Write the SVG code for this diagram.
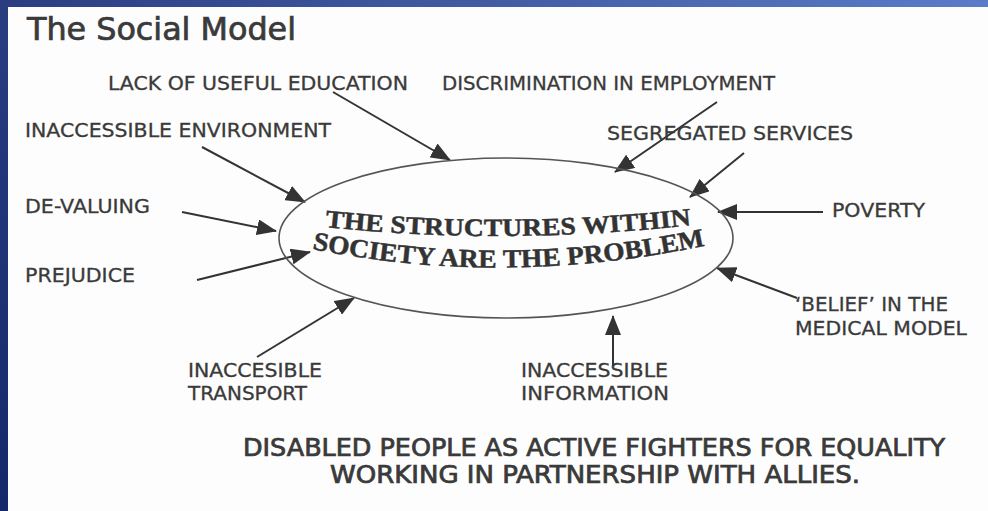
<svg xmlns="http://www.w3.org/2000/svg" width="988" height="511" viewBox="0 0 988 511">
  <defs>
    <linearGradient id="topbar" x1="0" y1="0" x2="1" y2="0">
      <stop offset="0" stop-color="#2a3d80"/>
      <stop offset="1" stop-color="#5b7cc8"/>
    </linearGradient>
    <linearGradient id="leftbar" x1="0" y1="0" x2="0" y2="1">
      <stop offset="0" stop-color="#2a3d80"/>
      <stop offset="1" stop-color="#14286a"/>
    </linearGradient>
    <marker id="arrow" markerUnits="userSpaceOnUse" markerWidth="20" markerHeight="16" viewBox="0 0 20 16" refX="19" refY="8" orient="auto">
      <path d="M0,0 L20,8 L0,16 Z" fill="#333"/>
    </marker>
    <path id="line1" d="M 325 227 Q 505 246 692 225"/>
    <path id="line2" d="M 312 249 Q 505 288 708 245"/>
  </defs>
  <style>
    .label { font-family: "DejaVu Sans", Verdana, sans-serif; font-size: 19px; fill: #3a3a3a; stroke: #3a3a3a; stroke-width: 0.3px; }
    .cond { font-family: "DejaVu Sans Condensed", "DejaVu Sans", sans-serif; fill: #3a3a3a; stroke: #3a3a3a; stroke-width: 0.7px; }
    .center { font-family: "Liberation Serif", "Times New Roman", serif; font-weight: bold; fill: #333; stroke: #333; stroke-width: 0.5px; }
    .conn { stroke: #333; stroke-width: 2; fill: none; marker-end: url(#arrow); }
  </style>

  <rect x="0" y="0" width="988" height="511" fill="#fdfdfd"/>
  <rect x="0" y="0" width="988" height="7" fill="url(#topbar)"/>
  <rect x="0" y="0" width="8" height="511" fill="url(#leftbar)"/>

  <text class="cond" x="27" y="40" font-size="32" textLength="269" lengthAdjust="spacingAndGlyphs">The Social Model</text>

  <g id="connectors">
    <line class="conn" x1="333" y1="92" x2="450" y2="160"/>
    <line class="conn" x1="717" y1="102" x2="615" y2="172"/>
    <line class="conn" x1="202" y1="147" x2="305" y2="202"/>
    <line class="conn" x1="744" y1="153" x2="690" y2="197"/>
    <line class="conn" x1="182" y1="212" x2="276" y2="231"/>
    <line class="conn" x1="823" y1="212" x2="718" y2="212"/>
    <line class="conn" x1="197" y1="280" x2="310" y2="252"/>
    <line class="conn" x1="797" y1="298" x2="717" y2="268"/>
    <line class="conn" x1="257" y1="357" x2="354" y2="298"/>
    <line class="conn" x1="613" y1="366" x2="613" y2="316"/>
  </g>

  <g id="center-node">
    <ellipse cx="506" cy="238" rx="227" ry="80" fill="none" stroke="#555" stroke-width="1.6"/>
    <text class="center" font-size="25"><textPath href="#line1" textLength="367" lengthAdjust="spacingAndGlyphs">THE STRUCTURES WITHIN</textPath></text>
    <text class="center" font-size="26"><textPath href="#line2" textLength="396" lengthAdjust="spacingAndGlyphs">SOCIETY ARE THE PROBLEM</textPath></text>
  </g>

  <g id="n-education"><text class="label" x="108" y="90" textLength="300" lengthAdjust="spacingAndGlyphs">LACK OF USEFUL EDUCATION</text></g>
  <g id="n-employment"><text class="label" x="442" y="90" textLength="333" lengthAdjust="spacingAndGlyphs">DISCRIMINATION IN EMPLOYMENT</text></g>
  <g id="n-environment"><text class="label" x="25" y="137" textLength="306" lengthAdjust="spacingAndGlyphs">INACCESSIBLE ENVIRONMENT</text></g>
  <g id="n-segregated"><text class="label" x="607" y="140" textLength="246" lengthAdjust="spacingAndGlyphs">SEGREGATED SERVICES</text></g>
  <g id="n-devaluing"><text class="label" x="25" y="213" textLength="125" lengthAdjust="spacingAndGlyphs">DE-VALUING</text></g>
  <g id="n-poverty"><text class="label" x="832" y="217" textLength="93" lengthAdjust="spacingAndGlyphs">POVERTY</text></g>
  <g id="n-prejudice"><text class="label" x="25" y="282" textLength="110" lengthAdjust="spacingAndGlyphs">PREJUDICE</text></g>
  <g id="n-medical">
    <text class="label" x="795" y="311" textLength="153" lengthAdjust="spacingAndGlyphs">‘BELIEF’ IN THE</text>
    <text class="label" x="795" y="335" textLength="172" lengthAdjust="spacingAndGlyphs">MEDICAL MODEL</text>
  </g>
  <g id="n-transport">
    <text class="label" x="188" y="377" textLength="134" lengthAdjust="spacingAndGlyphs">INACCESIBLE</text>
    <text class="label" x="188" y="400" textLength="119" lengthAdjust="spacingAndGlyphs">TRANSPORT</text>
  </g>
  <g id="n-information">
    <text class="label" x="521" y="377" textLength="147" lengthAdjust="spacingAndGlyphs">INACCESSIBLE</text>
    <text class="label" x="521" y="400" textLength="148" lengthAdjust="spacingAndGlyphs">INFORMATION</text>
  </g>

  <g id="footer">
    <text class="cond" x="243" y="456" font-size="24" textLength="702" lengthAdjust="spacingAndGlyphs">DISABLED PEOPLE AS ACTIVE FIGHTERS FOR EQUALITY</text>
    <text class="cond" x="330" y="483" font-size="24" textLength="530" lengthAdjust="spacingAndGlyphs">WORKING IN PARTNERSHIP WITH ALLIES.</text>
  </g>
</svg>
